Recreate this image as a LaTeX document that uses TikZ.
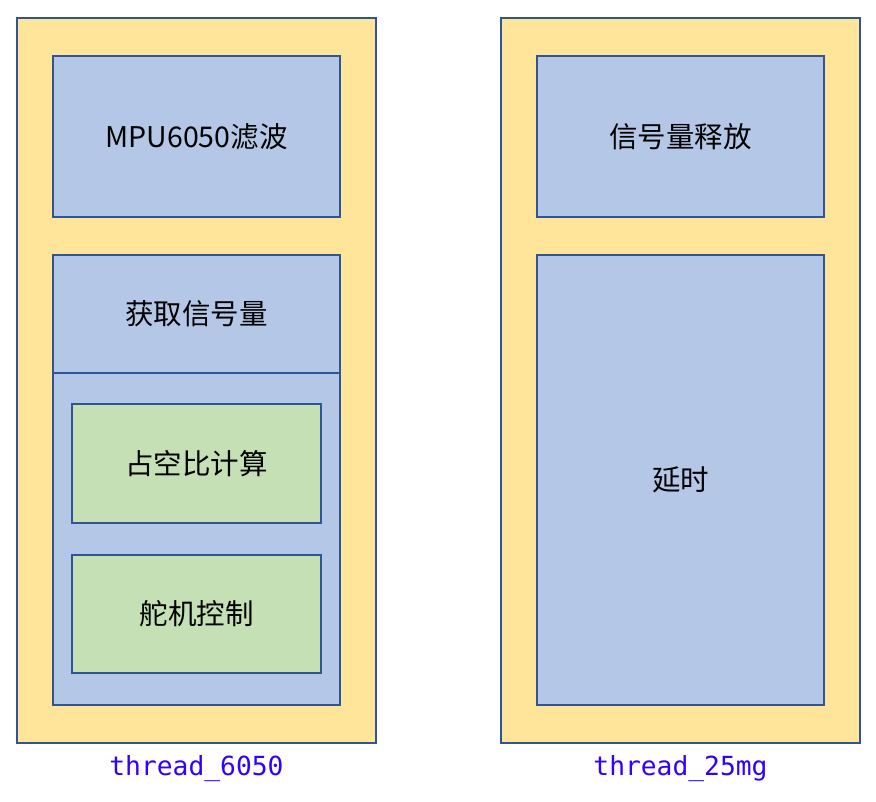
\documentclass[tikz,border=0pt]{standalone}
\usepackage{fontspec}
\newfontfamily\cjk{Noto Sans CJK SC}
\newfontfamily\monofont{DejaVu Sans Mono}
\usetikzlibrary{positioning}

\definecolor{threadfill}{HTML}{FFE599}
\definecolor{taskfill}{HTML}{B4C7E7}
\definecolor{subfill}{HTML}{C5E0B4}
\definecolor{edgeblue}{HTML}{2F5597}
\definecolor{labelblue}{HTML}{3300FF}

\tikzset{
  threadbox/.style={draw=edgeblue, line width=1.6pt, fill=threadfill},
  taskbox/.style={draw=edgeblue, line width=1.6pt, fill=taskfill},
  subbox/.style={draw=edgeblue, line width=1.6pt, fill=subfill},
  tasktext/.style={font=\cjk\fontsize{28.5}{32}\selectfont, text=black},
  threadlabel/.style={font=\monofont\fontsize{26.3}{30}\selectfont, text=labelblue}
}

\begin{document}
\begin{tikzpicture}[x=1pt, y=-1pt]
\useasboundingbox (0,0) rectangle (876,801);

% thread_6050
\draw[threadbox] (17,18) rectangle (376,743);
\draw[taskbox] (53,56) rectangle (340,217) node[midway, tasktext] (mpu) {MPU6050滤波};
\draw[taskbox] (53,255) rectangle (340,705);
\draw[taskbox] (53,255) rectangle (340,373) node[midway, tasktext] (take) {获取信号量};
\draw[subbox] (72,404) rectangle (321,523) node[midway, tasktext] (duty) {占空比计算};
\draw[subbox] (72,555) rectangle (321,673) node[midway, tasktext] (servo) {舵机控制};
\node[threadlabel] (name6050) at (196.5,769) {thread\_6050};

% thread_25mg
\draw[threadbox] (501,18) rectangle (860,743);
\draw[taskbox] (537,56) rectangle (824,217) node[midway, tasktext] (give) {信号量释放};
\draw[taskbox] (537,255) rectangle (824,705) node[midway, tasktext] (delay) {延时};
\node[threadlabel] (name25mg) at (680.5,769) {thread\_25mg};

\end{tikzpicture}
\end{document}
